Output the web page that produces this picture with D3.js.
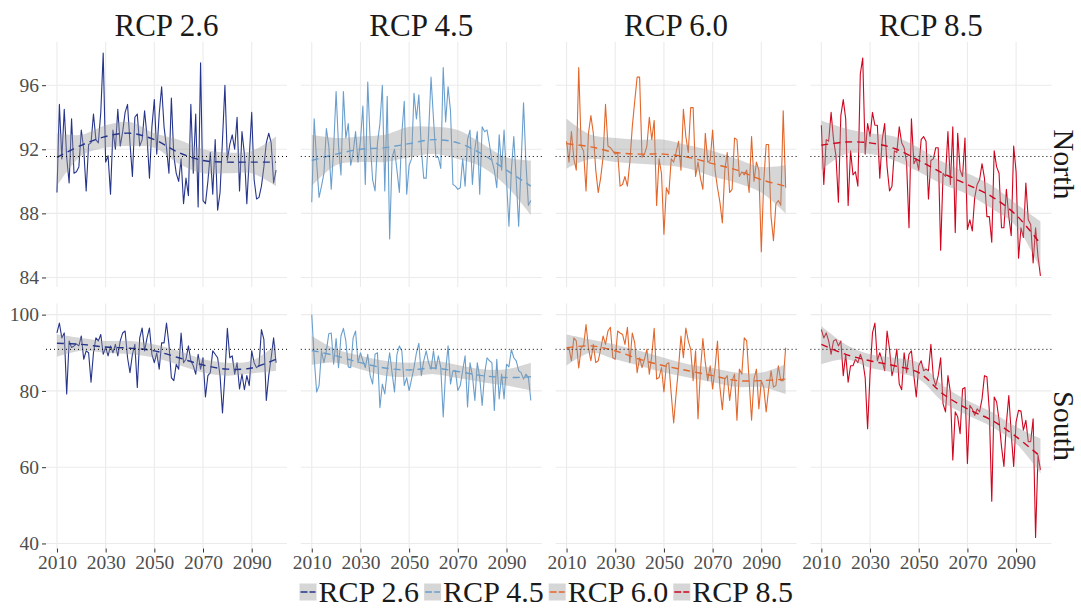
<!DOCTYPE html>
<html>
<head>
<meta charset="utf-8">
<script src="https://cdn.jsdelivr.net/npm/d3@7"></script>
<style>
  body { margin: 0; background: #fff; }
  svg { display: block; font-family: "Liberation Serif", "DejaVu Serif", serif; }
</style>
</head>
<body>
<div id="chart"></div>
<script>
var scenarios = ["RCP 2.6", "RCP 4.5", "RCP 6.0", "RCP 8.5"];
var regions = ["North", "South"];
var colors = ["#26358b", "#6a9fcd", "#e3672b", "#d0051e"];
var years = d3.range(2010, 2101);

// yearly values, North
var north26 = [89.3, 94.8, 91.4, 94.5, 91.5, 89.9, 93.9, 90.5, 90.6, 90.9,
  93.2, 92.0, 89.4, 92.3, 92.4, 94.2, 92.6, 92.4, 94.3, 98.0,
  91.2, 91.6, 89.2, 93.2, 92.0, 94.5, 92.2, 93.1, 94.3, 94.8,
  92.4, 90.3, 94.0, 94.2, 92.2, 92.6, 94.4, 92.8, 90.2, 93.4,
  95.1, 91.7, 94.2, 95.9, 93.4, 92.1, 90.5, 95.2, 91.6, 90.5,
  90.0, 91.4, 88.6, 90.2, 89.1, 94.8, 90.5, 94.2, 88.4, 97.4,
  88.8, 88.6, 90.0, 91.8, 89.2, 92.6, 88.2, 89.3, 92.6, 96.0,
  91.3, 92.3, 92.9, 92.0, 94.0, 89.4, 93.1, 91.7, 88.6, 91.5,
  94.3, 90.1, 88.9, 89.0, 89.7, 90.9, 92.4, 93.0, 92.4, 89.9, 90.7];
var north45 = [88.7, 93.9, 91.2, 89.0, 89.7, 90.5, 93.3, 92.2, 89.5, 92.1,
  95.6, 92.2, 90.4, 95.6, 92.7, 93.6, 91.0, 91.8, 93.1, 91.2,
  92.5, 94.7, 89.8, 96.2, 92.5, 90.1, 89.4, 92.4, 93.6, 96.0,
  89.4, 95.3, 86.4, 91.5, 92.0, 90.7, 89.3, 93.0, 95.0, 89.2,
  91.0, 91.4, 95.5, 93.9, 95.4, 92.0, 90.2, 90.2, 93.0, 96.5,
  93.9, 91.5, 91.5, 90.8, 97.1, 93.7, 95.9, 94.4, 89.8, 89.7,
  89.5, 89.6, 91.4, 89.7, 92.6, 93.2, 89.8, 92.0, 93.1, 89.2,
  93.4, 93.1, 93.2, 92.3, 91.3, 90.7, 89.6, 92.9, 90.7, 93.2,
  90.1, 87.2, 90.7, 92.8, 90.1, 87.2, 91.1, 94.9, 91.1, 88.5, 88.8];
var north60 = [92.5, 91.2, 93.1, 91.4, 90.7, 97.1, 92.2, 91.9, 89.4, 93.0,
  94.1, 93.0, 90.7, 89.3, 90.2, 91.5, 94.8, 92.2, 92.1, 91.9,
  91.7, 91.8, 89.7, 89.8, 90.3, 89.7, 91.2, 93.4, 95.0, 96.5,
  96.5, 91.5, 91.7, 92.2, 94.0, 92.6, 93.8, 88.5, 91.4, 90.5,
  86.7, 89.6, 89.2, 91.4, 91.2, 91.8, 92.5, 90.7, 94.5, 92.8,
  91.8, 94.6, 94.6, 90.3, 91.2, 90.2, 89.5, 93.0, 91.2, 91.3,
  93.2, 90.7, 89.6, 88.7, 87.4, 90.7, 91.8, 89.3, 89.5, 92.7,
  92.6, 90.3, 90.6, 90.4, 90.7, 89.3, 92.8, 90.0, 91.2, 90.7,
  85.6, 90.0, 92.3, 92.3, 87.8, 86.3, 88.6, 88.8, 88.5, 94.4, 89.6];
var north85 = [93.5, 89.8, 92.6, 92.5, 94.3, 92.6, 91.6, 88.7, 94.1, 95.1,
  93.9, 88.5, 91.9, 90.4, 90.6, 89.7, 96.7, 97.7, 91.7, 93.6,
  92.8, 94.3, 93.5, 93.5, 90.2, 92.6, 93.6, 90.9, 89.4, 89.7,
  91.9, 91.8, 93.4, 92.4, 92.1, 91.2, 87.1, 93.9, 91.1, 91.4,
  90.7, 92.6, 92.8, 92.5, 88.9, 91.3, 91.4, 92.1, 92.1, 85.7,
  90.5, 90.3, 93.1, 89.8, 93.4, 86.8, 93.0, 90.7, 90.3, 92.7,
  87.0, 87.6, 86.9, 89.0, 89.8, 90.1, 91.1, 90.2, 87.8, 87.8,
  86.2, 91.9, 90.9, 90.5, 87.1, 87.1, 89.5, 87.8, 86.6, 92.2,
  90.6, 85.2, 87.1, 86.5, 89.9, 87.6, 87.3, 84.9, 87.1, 85.3, 84.1];

// yearly values, South
var south26 = [95.2, 97.8, 93.9, 95.2, 79.2, 93.1, 91.4, 91.8, 92.3, 91.8,
  94.4, 88.3, 90.5, 90.0, 82.3, 90.0, 93.9, 93.1, 94.8, 89.6,
  91.4, 89.2, 91.8, 90.0, 92.2, 89.2, 93.1, 95.2, 95.7, 88.7,
  84.8, 89.6, 92.2, 80.9, 93.9, 96.5, 90.5, 93.9, 96.5, 89.6,
  87.4, 90.0, 85.7, 92.6, 92.6, 97.8, 92.2, 83.5, 82.7, 87.0,
  85.7, 95.2, 87.4, 88.3, 91.8, 87.9, 86.6, 84.4, 89.6, 85.7,
  88.7, 78.4, 84.0, 84.8, 90.5, 89.6, 88.7, 84.0, 74.2, 84.4,
  96.4, 88.7, 89.2, 84.4, 87.4, 80.5, 84.4, 80.3, 84.0, 81.4,
  90.5, 87.4, 86.1, 86.6, 96.1, 93.5, 77.5, 84.0, 88.7, 93.9, 87.4];
var south45 = [100.0, 88.7, 79.7, 81.4, 90.5, 87.4, 90.5, 95.0, 95.2, 87.0,
  93.7, 86.1, 94.4, 96.4, 93.1, 86.3, 86.1, 93.9, 95.7, 87.4,
  90.0, 87.9, 86.1, 89.6, 84.0, 81.8, 89.6, 90.0, 75.6, 81.8,
  79.2, 85.3, 90.0, 84.8, 79.7, 89.6, 91.8, 90.5, 81.4, 83.5,
  80.1, 83.1, 86.1, 90.0, 92.5, 84.0, 87.9, 90.5, 87.4, 85.7,
  90.5, 85.7, 89.2, 86.1, 73.2, 85.3, 91.8, 81.8, 85.3, 85.3,
  80.1, 81.4, 85.3, 89.2, 75.8, 87.4, 84.0, 77.5, 87.4, 83.5,
  76.2, 84.4, 88.7, 87.9, 87.4, 74.9, 88.3, 77.9, 84.4, 77.9,
  87.0, 86.3, 90.9, 88.7, 87.9, 85.3, 84.8, 83.1, 84.4, 83.5, 77.5];
var south60 = [90.9, 91.3, 87.9, 93.9, 93.1, 86.0, 91.3, 91.8, 97.4, 91.3,
  87.9, 92.2, 87.4, 87.9, 90.9, 94.4, 92.2, 95.7, 96.7, 88.7,
  88.3, 95.7, 95.2, 94.8, 92.2, 96.7, 87.4, 95.2, 92.6, 84.8,
  88.7, 86.1, 88.3, 90.9, 84.4, 89.2, 96.4, 83.1, 83.5, 86.1,
  79.7, 87.0, 87.4, 79.2, 71.6, 79.2, 86.1, 94.4, 88.7, 96.5,
  93.1, 90.9, 82.7, 90.5, 72.7, 85.3, 93.7, 87.4, 82.7, 86.6,
  80.5, 86.1, 93.1, 81.0, 75.1, 83.1, 84.0, 77.5, 82.7, 84.4,
  72.3, 85.7, 84.4, 93.9, 93.1, 82.7, 72.3, 83.1, 85.7, 75.3,
  82.7, 81.0, 74.5, 80.5, 85.3, 81.0, 81.4, 86.6, 82.7, 82.7, 91.3];
var south85 = [96.1, 93.9, 95.2, 93.1, 89.6, 93.1, 93.5, 91.8, 93.1, 84.0,
  89.6, 82.3, 86.6, 86.6, 88.3, 87.4, 89.6, 87.9, 83.5, 70.1,
  84.4, 95.2, 97.8, 87.9, 90.0, 87.9, 85.3, 95.7, 91.0, 84.0,
  86.6, 91.0, 81.8, 80.3, 90.0, 84.8, 89.6, 90.5, 84.0, 78.4,
  86.6, 87.9, 85.3, 85.7, 85.3, 92.2, 83.5, 81.4, 84.0, 88.7,
  76.6, 74.5, 84.0, 79.7, 61.9, 74.5, 73.2, 68.8, 80.5, 80.9,
  61.0, 76.2, 75.3, 73.6, 75.3, 74.5, 77.9, 84.0, 83.7, 74.9,
  51.1, 78.4, 77.1, 72.3, 65.4, 60.2, 71.4, 78.8, 68.8, 60.2,
  71.9, 74.9, 74.7, 69.7, 72.3, 66.7, 66.7, 72.7, 41.6, 63.2, 59.3];

// smoothed trend (fit, lower, upper) read every 10 years
var smoothYears = [2010, 2020, 2030, 2040, 2050, 2060, 2070, 2080, 2090, 2100];
var north26Fit = [91.5, 92.25, 92.8, 93.0, 92.6, 91.8, 91.3, 91.2, 91.2, 91.2];
var north26Lo = [89.7, 91.6, 92.1, 92.2, 92.1, 91.1, 90.5, 90.5, 90.5, 89.7];
var north26Hi = [93.0, 92.9, 93.5, 93.7, 93.0, 92.6, 92.0, 91.8, 91.9, 92.8];
var north45Fit = [91.3, 91.7, 92.0, 92.1, 92.35, 92.6, 92.4, 91.7, 90.7, 89.7];
var north45Lo = [89.7, 91.0, 91.2, 91.2, 91.5, 91.7, 91.4, 90.9, 89.7, 87.9];
var north45Hi = [92.9, 92.7, 92.8, 92.9, 93.4, 93.4, 93.2, 92.35, 91.5, 91.3];
var north60Fit = [92.35, 92.15, 91.8, 91.7, 91.7, 91.5, 91.1, 90.7, 90.1, 89.7];
var north60Lo = [90.8, 91.4, 91.2, 91.1, 91.0, 90.8, 90.3, 89.9, 89.3, 88.0];
var north60Hi = [93.9, 92.9, 92.7, 92.6, 92.6, 92.25, 91.9, 91.4, 90.9, 91.0];
var north85Fit = [92.25, 92.45, 92.4, 92.05, 91.3, 90.5, 89.8, 89.05, 87.9, 86.1];
var north85Lo = [90.7, 91.7, 91.7, 91.3, 90.6, 89.8, 89.2, 88.3, 87.2, 84.5];
var north85Hi = [93.8, 93.3, 93.0, 92.8, 92.1, 91.2, 90.5, 89.75, 88.6, 87.5];
var south26Fit = [92.5, 92.2, 91.5, 91.2, 90.5, 88.7, 86.8, 85.7, 86.0, 88.3];
var south26Lo = [88.9, 90.5, 90.0, 89.6, 88.7, 86.8, 84.8, 84.0, 84.6, 85.3];
var south26Hi = [94.8, 93.9, 93.1, 93.1, 92.2, 90.5, 88.3, 87.4, 87.9, 92.2];
var south45Fit = [90.6, 89.2, 87.4, 86.0, 85.5, 86.0, 85.1, 84.0, 83.5, 83.7];
var south45Lo = [86.8, 87.4, 85.7, 84.0, 83.7, 84.4, 83.4, 82.3, 81.4, 80.1];
var south45Hi = [94.4, 90.9, 89.2, 87.9, 87.4, 87.9, 86.8, 85.7, 85.7, 87.4];
var south60Fit = [91.3, 91.8, 90.5, 88.3, 86.6, 85.3, 84.0, 82.7, 82.7, 83.1];
var south60Lo = [86.6, 90.0, 88.3, 86.6, 84.8, 83.5, 82.3, 81.0, 81.0, 79.2];
var south60Hi = [94.8, 93.5, 92.2, 90.5, 88.7, 87.0, 86.0, 84.8, 84.8, 87.0];
var south85Fit = [92.2, 89.6, 87.9, 86.6, 84.8, 79.2, 75.3, 72.3, 68.0, 62.8];
var south85Lo = [87.0, 88.3, 86.1, 84.8, 83.1, 77.1, 73.6, 70.6, 66.2, 58.4];
var south85Hi = [97.0, 92.2, 89.6, 88.7, 87.4, 81.4, 77.5, 74.5, 70.6, 67.5];

var refLines = [91.55, 90.9];
var xTicks = [2010, 2030, 2050, 2070, 2090];
var yTicksNorth = [84, 88, 92, 96];
var yTicksSouth = [40, 60, 80, 100];

var values = [[north26, north45, north60, north85], [south26, south45, south60, south85]];
var fits = [[north26Fit, north45Fit, north60Fit, north85Fit], [south26Fit, south45Fit, south60Fit, south85Fit]];
var lows = [[north26Lo, north45Lo, north60Lo, north85Lo], [south26Lo, south45Lo, south60Lo, south85Lo]];
var highs = [[north26Hi, north45Hi, north60Hi, north85Hi], [south26Hi, south45Hi, south60Hi, south85Hi]];
var yTicks = [yTicksNorth, yTicksSouth];

var width = 1081, height = 609;
var panelW = 241, panelH = 245;
var lefts = [46, 300.8, 555.6, 810.4];
var tops = [42, 303.5];
var bigFont = 31, tickFont = 19.5;

var svg = d3.select("#chart").append("svg")
  .attr("width", width).attr("height", height);

var ribbonFill = "#999999";

regions.forEach(function(region, r) {
  // shared y scale per row, with ggplot style 5% expansion
  var all = [];
  values[r].forEach(function(v) { all = all.concat(v); });
  lows[r].forEach(function(v) { all = all.concat(v); });
  highs[r].forEach(function(v) { all = all.concat(v); });
  var ext = d3.extent(all);
  var pad = (ext[1] - ext[0]) * 0.05;
  var y = d3.scaleLinear().domain([ext[0] - pad, ext[1] + pad]).range([tops[r] + panelH, tops[r]]);

  scenarios.forEach(function(sc, c) {
    var x = d3.scaleLinear().domain([2005.5, 2104.5]).range([lefts[c], lefts[c] + panelW]);
    var g = svg.append("g");

    // grid
    g.selectAll(".hgrid").data(yTicks[r]).enter().append("line")
      .attr("x1", lefts[c]).attr("x2", lefts[c] + panelW)
      .attr("y1", function(d) { return y(d); }).attr("y2", function(d) { return y(d); })
      .attr("stroke", "#ebebeb").attr("stroke-width", 1.1);
    g.selectAll(".vgrid").data(xTicks).enter().append("line")
      .attr("y1", tops[r]).attr("y2", tops[r] + panelH)
      .attr("x1", function(d) { return x(d); }).attr("x2", function(d) { return x(d); })
      .attr("stroke", "#ebebeb").attr("stroke-width", 1.1);

    // yearly line
    var line = d3.line()
      .x(function(d, i) { return x(years[i]); })
      .y(function(d) { return y(d); });
    g.append("path").datum(values[r][c])
      .attr("d", line)
      .attr("fill", "none")
      .attr("stroke", colors[c])
      .attr("stroke-width", 1.1)
      .attr("stroke-linejoin", "round");

    // ribbon
    var area = d3.area()
      .x(function(d, i) { return x(smoothYears[i]); })
      .y0(function(d, i) { return y(lows[r][c][i]); })
      .y1(function(d, i) { return y(highs[r][c][i]); })
      .curve(d3.curveCatmullRom);
    g.append("path").datum(fits[r][c])
      .attr("d", area)
      .attr("fill", ribbonFill)
      .attr("fill-opacity", 0.4);

    // smooth
    var smooth = d3.line()
      .x(function(d, i) { return x(smoothYears[i]); })
      .y(function(d) { return y(d); })
      .curve(d3.curveCatmullRom);
    g.append("path").datum(fits[r][c])
      .attr("d", smooth)
      .attr("fill", "none")
      .attr("stroke", colors[c])
      .attr("stroke-width", 1.4)
      .attr("stroke-dasharray", "7,5");

    // reference line
    g.append("line")
      .attr("x1", lefts[c]).attr("x2", lefts[c] + panelW)
      .attr("y1", y(refLines[r])).attr("y2", y(refLines[r]))
      .attr("stroke", "#000").attr("stroke-width", 1)
      .attr("stroke-dasharray", "1,3");

    // column titles
    if (r === 0) {
      svg.append("text")
        .attr("x", lefts[c] + panelW / 2)
        .attr("y", 36)
        .attr("text-anchor", "middle")
        .attr("font-size", bigFont)
        .attr("fill", "#1a1a1a")
        .text(sc);
    }

    // x axis on bottom row
    if (r === 1) {
      var xAxis = d3.axisBottom(x).tickValues(xTicks).tickFormat(d3.format("d"))
        .tickSize(4).tickPadding(3);
      var ax = svg.append("g")
        .attr("class", "axis x-axis")
        .attr("transform", "translate(0," + (tops[r] + panelH) + ")")
        .call(xAxis);
      ax.select(".domain").remove();
      ax.selectAll("line").attr("stroke", "#333");
      ax.selectAll("text").attr("font-size", tickFont).attr("fill", "#4d4d4d")
        .attr("font-family", "Liberation Serif");
    }

    // y axis on first column
    if (c === 0) {
      var yAxis = d3.axisLeft(y).tickValues(yTicks[r]).tickSize(4).tickPadding(3);
      var ay = svg.append("g")
        .attr("class", "axis y-axis")
        .attr("transform", "translate(" + lefts[c] + ",0)")
        .call(yAxis);
      ay.select(".domain").remove();
      ay.selectAll("line").attr("stroke", "#333");
      ay.selectAll("text").attr("font-size", tickFont).attr("fill", "#4d4d4d")
        .attr("font-family", "Liberation Serif");
    }
  });

  // row strip label
  var cy = tops[r] + panelH / 2;
  svg.append("text")
    .attr("transform", "translate(1054," + cy + ") rotate(90)")
    .attr("text-anchor", "middle")
    .attr("font-size", bigFont - 1)
    .attr("fill", "#1a1a1a")
    .text(region);
});

// legend
var legend = svg.append("g");
var keySize = 17;
var legendFont = 30;
var xpos = 0;
scenarios.forEach(function(sc, i) {
  var item = legend.append("g").attr("transform", "translate(" + xpos + ",0)");
  item.append("rect")
    .attr("x", 0).attr("y", -keySize / 2)
    .attr("width", keySize).attr("height", keySize)
    .attr("fill", ribbonFill).attr("fill-opacity", 0.4);
  item.append("line")
    .attr("x1", 1).attr("x2", keySize - 1)
    .attr("y1", 0).attr("y2", 0)
    .attr("stroke", colors[i]).attr("stroke-width", 1.4)
    .attr("stroke-dasharray", "7,2");
  var t = item.append("text")
    .attr("x", keySize + 2)
    .attr("y", 10)
    .attr("font-size", legendFont)
    .attr("fill", "#1a1a1a")
    .text(sc);
  xpos += keySize + 2 + t.node().getComputedTextLength() + 5;
});
legend.attr("transform", "translate(" + ((lefts[0] + lefts[3] + panelW) / 2 - xpos / 2) + ",592)");
</script>
</body>
</html>
